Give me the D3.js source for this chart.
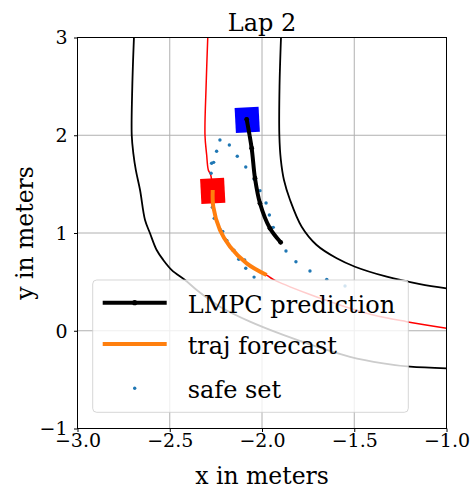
<!DOCTYPE html>
<html>
<head>
<meta charset="UTF-8">
<style>
    body { margin: 0; background: #fff; }
</style>
</head>
<body>
<script src="https://cdn.jsdelivr.net/npm/d3@7"></script>
<svg id="svg" width="471" height="489"></svg>
<script>
    // track
    const innerX = [-2.694, -2.703, -2.706, -2.697, -2.684, -2.661, -2.634, -2.607, -2.571, -2.535, -2.489, -2.417, -2.354, -2.282, -2.228, -2.065, -1.885, -1.704, -1.523, -1.343, -1.198, -1.0];
    const innerY = [3.0, 2.5, 2.0, 1.81, 1.645, 1.44, 1.133, 0.997, 0.826, 0.724, 0.621, 0.519, 0.417, 0.315, 0.246, 0.093, -0.043, -0.163, -0.266, -0.333, -0.368, -0.384];
    const outerX = [-1.897, -1.905, -1.906, -1.898, -1.881, -1.848, -1.785, -1.704, -1.595, -1.496, -1.324, -1.144, -1.0];
    const outerY = [3.0, 2.5, 2.0, 1.75, 1.542, 1.338, 1.064, 0.877, 0.741, 0.655, 0.553, 0.478, 0.434];
    const centerX = [-2.294, -2.303, -2.309, -2.300, -2.291, -2.278, -2.267, -2.264, -2.228, -2.173, -2.083, -1.975, -1.939, -1.758, -1.577, -1.397, -1.216, -1.0];
    const centerY = [3.0, 2.5, 2.0, 1.8, 1.645, 1.594, 1.44, 1.269, 1.031, 0.86, 0.69, 0.57, 0.526, 0.383, 0.263, 0.161, 0.093, 0.025];

    // LMPC prediction
    const predX = [-2.083, -2.056, -2.038, -2.011, -1.957, -1.899];
    const predY = [2.163, 1.867, 1.56, 1.304, 1.048, 0.905];

    // trajectory forecast
    const foreX = [-2.267, -2.264, -2.228, -2.173, -2.083, -1.975];
    const foreY = [1.44, 1.269, 1.031, 0.86, 0.69, 0.57];

    // safe set
    const safeX = [-2.228, -2.246, -2.273, -2.262, -2.276, -2.269, -2.259, -2.228, -2.213, -2.197, -2.191, -2.159, -2.152, -2.126, -2.094, -2.088, -2.043,
        -2.177, -2.134, -2.088, -2.042, -2.011, -1.978, -1.960, -1.939, -1.870, -1.816, -1.740, -1.649, -1.550];
    const safeY = [1.951, 1.836, 1.713, 1.723, 1.611, 1.263, 1.150, 1.038, 1.017, 0.928, 0.925, 0.826, 0.823, 0.731, 0.724, 0.639, 0.549,
        1.900, 1.785, 1.675, 1.549, 1.433, 1.307, 1.184, 1.058, 0.816, 0.706, 0.611, 0.526, 0.458];

    // cars: predicted end (blue) and current (red)
    const carX = [-2.080, -2.267];
    const carY = [2.158, 1.430];
    const carColor = ["#0000ff", "#ff0000"];

    const xTicks = [-3.0, -2.5, -2.0, -1.5, -1.0];
    const yTicks = [-1, 0, 1, 2, 3];

    const FONT = "DejaVu Serif";
    const svg = d3.select("#svg").attr("font-family", FONT);
    const x = d3.scaleLinear().domain([-3, -1]).range([77.5, 446.5]);
    const y = d3.scaleLinear().domain([-1, 3]).range([428.5, 37.5]);
    const minus = s => s.replace("-", "\u2212");

    svg.append("defs").append("clipPath").attr("id", "clip")
        .append("rect").attr("x", 77.5).attr("y", 37.5).attr("width", 369).attr("height", 391);

    // grid
    const grid = svg.append("g").attr("stroke", "#b0b0b0").attr("stroke-width", 1);
    xTicks.forEach(t => grid.append("line").attr("x1", x(t)).attr("x2", x(t)).attr("y1", 37.5).attr("y2", 428.5));
    yTicks.forEach(t => grid.append("line").attr("y1", y(t)).attr("y2", y(t)).attr("x1", 77.5).attr("x2", 446.5));

    const plot = svg.append("g").attr("clip-path", "url(#clip)");
    const line = d3.line().x(d => x(d[0])).y(d => y(d[1])).curve(d3.curveCatmullRom);
    const zip = (a, b) => a.map((v, i) => [v, b[i]]);

    plot.append("path").attr("d", line(zip(innerX, innerY))).attr("fill", "none").attr("stroke", "#000").attr("stroke-width", 1.8);
    plot.append("path").attr("d", line(zip(outerX, outerY))).attr("fill", "none").attr("stroke", "#000").attr("stroke-width", 1.8);
    plot.append("path").attr("d", line(zip(centerX, centerY))).attr("fill", "none").attr("stroke", "#ff0000").attr("stroke-width", 1.5);

    // cars
    carX.forEach((cx, i) => {
        plot.append("rect")
            .attr("x", -12).attr("y", -12.5).attr("width", 24).attr("height", 25)
            .attr("fill", carColor[i])
            .attr("transform", "translate(" + x(cx) + "," + y(carY[i]) + ") rotate(-3)");
    });

    // safe set
    plot.selectAll(".ss").data(zip(safeX, safeY)).enter().append("circle")
        .attr("cx", d => x(d[0])).attr("cy", d => y(d[1])).attr("r", 1.7).attr("fill", "#1f77b4");

    // LMPC prediction
    plot.append("path").attr("d", line(zip(predX, predY))).attr("fill", "none").attr("stroke", "#000").attr("stroke-width", 4).attr("stroke-linecap", "round");
    plot.selectAll(".pm").data(zip(predX, predY)).enter().append("circle")
        .attr("cx", d => x(d[0])).attr("cy", d => y(d[1])).attr("r", 2.4).attr("fill", "#000");

    // forecast
    plot.append("path").attr("d", line(zip(foreX, foreY))).attr("fill", "none").attr("stroke", "#ff7f0e").attr("stroke-width", 4);

    // axes
    const xa = svg.append("g").attr("transform", "translate(0,428.5)")
        .call(d3.axisBottom(x).tickValues(xTicks).tickSize(3.5).tickPadding(1).tickFormat(d => minus(d3.format(".1f")(d))));
    const ya = svg.append("g").attr("transform", "translate(77.5,0)")
        .call(d3.axisLeft(y).tickValues(yTicks).tickSize(3.5).tickPadding(6.5).tickFormat(d => minus(String(d))));
    [xa, ya].forEach(a => {
        a.attr("font-family", FONT).attr("font-size", 19);
        a.select(".domain").remove();
        a.selectAll(".tick line").attr("stroke", "#000");
        a.selectAll(".tick text").attr("fill", "#000");
    });
    ya.selectAll(".tick text").attr("dy", "0.34em");
    svg.append("rect").attr("x", 77.5).attr("y", 37.5).attr("width", 369).attr("height", 391)
        .attr("fill", "none").attr("stroke", "#000").attr("stroke-width", 1);

    // labels
    svg.append("text").attr("x", 262).attr("y", 30.5).attr("text-anchor", "middle").attr("font-size", 24).text("Lap 2");
    svg.append("text").attr("x", 262).attr("y", 484).attr("text-anchor", "middle").attr("font-size", 23.5).text("x in meters");
    svg.append("text").attr("transform", "translate(33,233) rotate(-90)").attr("text-anchor", "middle").attr("font-size", 23.5).text("y in meters");

    // legend
    const lg = svg.append("g");
    lg.append("rect").attr("x", 92.7).attr("y", 280).attr("width", 315.6).attr("height", 132.3).attr("rx", 4)
        .attr("fill", "#fff").attr("fill-opacity", 0.8).attr("stroke", "#ccc").attr("stroke-opacity", 0.8);
    const legNames = ["LMPC prediction", "traj forecast", "safe set"];
    const legY = [302.7, 344, 388.3];
    lg.append("line").attr("x1", 102.7).attr("x2", 166.7).attr("y1", legY[0]).attr("y2", legY[0]).attr("stroke", "#000").attr("stroke-width", 4);
    lg.append("circle").attr("cx", 134.7).attr("cy", legY[0]).attr("r", 2.6).attr("fill", "#000");
    lg.append("line").attr("x1", 102.7).attr("x2", 166.7).attr("y1", legY[1]).attr("y2", legY[1]).attr("stroke", "#ff7f0e").attr("stroke-width", 4);
    lg.append("circle").attr("cx", 134.7).attr("cy", legY[2]).attr("r", 1.7).attr("fill", "#1f77b4");
    legNames.forEach((n, i) => lg.append("text").attr("x", 187.7).attr("y", legY[i] + 10).attr("font-size", 24).text(n));
</script>
</body>
</html>
